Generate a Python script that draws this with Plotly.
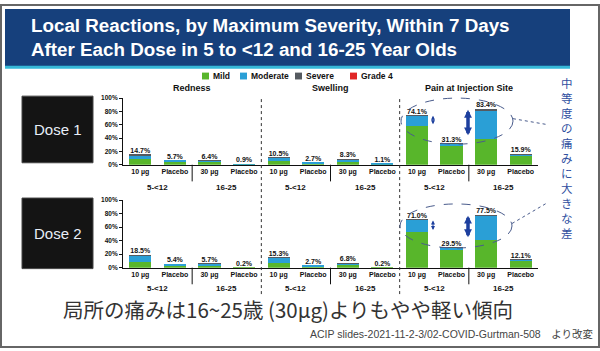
import plotly.graph_objects as go

W, H = 600, 351

# ---------------- data ----------------
categories = [
    "R-5-10", "R-5-P", "R-16-30", "R-16-P",
    "S-5-10", "S-5-P", "S-16-30", "S-16-P",
    "P-5-10", "P-5-P", "P-16-30", "P-16-P",
]
tick_labels = ["10 µg", "Placebo", "30 µg", "Placebo"] * 3
group_labels = ["5-<12", "16-25"]
panel_titles = ["Redness", "Swelling", "Pain at Injection Site"]
series_names = ["Mild", "Moderate", "Severe", "Grade 4"]
series_colors = ["#58b62b", "#2a9fd6", "#555a60", "#e02626"]

d1_mild = [8.8, 4.2, 4.4, 0.6, 5.0, 1.4, 4.6, 0.8, 58.5, 27.6, 38.0, 13.0]
d1_moderate = [5.5, 1.5, 1.8, 0.3, 5.3, 1.3, 3.5, 0.3, 15.1, 3.6, 43.0, 2.8]
d1_severe = [0.4, 0.0, 0.2, 0.0, 0.2, 0.0, 0.2, 0.0, 0.5, 0.1, 2.4, 0.1]
d1_grade4 = [0, 0, 0, 0, 0, 0, 0, 0, 0, 0, 0, 0]
d1_total = [14.7, 5.7, 6.4, 0.9, 10.5, 2.7, 8.3, 1.1, 74.1, 31.3, 83.4, 15.9]

d2_mild = [8.5, 3.8, 3.6, 0.2, 7.2, 1.4, 3.6, 0.2, 52.5, 27.0, 41.0, 10.0]
d2_moderate = [9.7, 1.6, 1.9, 0.0, 7.9, 1.3, 3.0, 0.0, 18.0, 2.4, 35.5, 2.0]
d2_severe = [0.3, 0.0, 0.2, 0.0, 0.2, 0.0, 0.2, 0.0, 0.5, 0.1, 1.0, 0.1]
d2_grade4 = [0, 0, 0, 0, 0, 0, 0, 0, 0, 0, 0, 0]
d2_total = [18.5, 5.4, 5.7, 0.2, 15.3, 2.7, 6.8, 0.2, 71.0, 29.5, 77.5, 12.1]

title_lines = ["Local Reactions, by Maximum Severity, Within 7 Days",
               "After Each Dose in 5 to <12 and 16-25 Year Olds"]
dose_labels = ["Dose 1", "Dose 2"]
side_note = "中等度の痛みに大きな差"
bottom_note = "局所の痛みは16~25歳 (30µg)よりもやや軽い傾向"
source_note = "ACIP slides-2021-11-2-3/02-COVID-Gurtman-508　より改変"

FONT = "Liberation Sans, Arial, sans-serif"
JFONT = "Noto Sans CJK JP, sans-serif"
MIXFONT = "Liberation Sans, Noto Sans CJK JP, sans-serif"


def px(x):
    return x / W


def py(y):
    return 1 - y / H


fig = go.Figure()

dose_data = [
    (d1_mild, d1_moderate, d1_severe, d1_grade4, d1_total, "x", "y"),
    (d2_mild, d2_moderate, d2_severe, d2_grade4, d2_total, "x2", "y2"),
]
for di, (mi, mo, se, g4, tot, xa, ya) in enumerate(dose_data):
    for name, vals, col in zip(series_names, [mi, mo, se, g4], series_colors):
        fig.add_trace(go.Bar(
            x=categories, y=vals, name=name, marker_color=col,
            marker_line_width=0, width=0.64, xaxis=xa, yaxis=ya,
            showlegend=False,
        ))
    fig.add_trace(go.Scatter(
        x=categories, y=tot, mode="text",
        text=[f"{v:.1f}%" for v in tot], textposition="top center",
        textfont=dict(family=FONT, size=7, color="#111", weight="bold"),
        xaxis=xa, yaxis=ya, showlegend=False, cliponaxis=False,
    ))

# axis geometry (pixels)
X0, X1 = 123, 538
axes_px = [(96, 164), (200, 269)]

xaxis_common = dict(
    type="category", categoryorder="array", categoryarray=categories,
    tickvals=categories, ticktext=tick_labels, range=[-0.5, 11.5],
    domain=[px(X0), px(X1)], showline=True, linecolor="#111", linewidth=1,
    ticks="", showgrid=False, zeroline=False,
    tickfont=dict(family=FONT, size=7, color="#111", weight="bold"),
    fixedrange=True,
)
yaxis_common = dict(
    range=[0, 100], dtick=20, ticksuffix="%", showline=True, linecolor="#111",
    linewidth=1, ticks="outside", ticklen=3, tickcolor="#111",
    showgrid=False, zeroline=False,
    tickfont=dict(family=FONT, size=6.5, color="#111", weight="bold"),
    fixedrange=True,
)

fig.update_layout(
    xaxis=dict(xaxis_common, anchor="y"),
    xaxis2=dict(xaxis_common, anchor="y2"),
    yaxis=dict(yaxis_common, anchor="x", domain=[py(axes_px[0][1]), py(axes_px[0][0])]),
    yaxis2=dict(yaxis_common, anchor="x2", domain=[py(axes_px[1][1]), py(axes_px[1][0])]),
)

shapes = []
annotations = []

# frame
shapes.append(dict(type="rect", xref="paper", yref="paper", x0=px(1), x1=px(599),
                   y0=py(1), y1=py(350), line=dict(color="#666", width=2),
                   fillcolor="rgba(0,0,0,0)", layer="below"))
# banner
shapes.append(dict(type="rect", xref="paper", yref="paper", x0=px(5), x1=px(570),
                   y0=py(64), y1=py(5), line=dict(width=0), fillcolor="#16407c",
                   layer="below"))
shapes.append(dict(type="rect", xref="paper", yref="paper", x0=px(5), x1=px(570),
                   y0=py(66), y1=py(63), line=dict(width=0), fillcolor="#35b8d8",
                   layer="below"))
for i, (line, yc) in enumerate(zip(title_lines, [22, 46])):
    annotations.append(dict(text=line, xref="paper", yref="paper", x=px(29), y=py(yc),
                            xanchor="left", yanchor="middle", showarrow=False,
                            font=dict(family=FONT, size=18.8, color="white", weight="bold")))

# legend (manual)
leg_x = [202, 240, 295, 350]
for lx, name, col in zip(leg_x, series_names, series_colors):
    shapes.append(dict(type="rect", xref="paper", yref="paper", x0=px(lx), x1=px(lx + 7),
                       y0=py(77), y1=py(70), line=dict(width=0), fillcolor=col))
    annotations.append(dict(text=name, xref="paper", yref="paper", x=px(lx + 8.5), y=py(73.5),
                            xanchor="left", yanchor="middle", showarrow=False,
                            font=dict(family=FONT, size=8.5, color="#111", weight="bold")))

# dose boxes
for lab, (y0, y1) in zip(dose_labels, [(94, 162), (198, 270)]):
    shapes.append(dict(type="rect", xref="paper", yref="paper", x0=px(22), x1=px(93),
                       y0=py(y1), y1=py(y0), line=dict(color="#444", width=1),
                       fillcolor="#141414", layer="below"))
    annotations.append(dict(text=lab, xref="paper", yref="paper", x=px(57.5),
                            y=py((y0 + y1) / 2), xanchor="center", yanchor="middle",
                            showarrow=False,
                            font=dict(family=FONT, size=15, color="#e8eef8")))

# panel titles, group labels, separators
for pi, title in enumerate(panel_titles):
    base = 4 * pi
    annotations.append(dict(text=title, xref="x", yref="paper", x=base + 1.5, y=py(86),
                            xanchor="center", yanchor="middle", showarrow=False,
                            font=dict(family=FONT, size=9, color="#111", weight="bold")))
    for xa, (ytop, ybot), glab_y, sep_bot in [("x", axes_px[0], 187, 181),
                                                ("x2", axes_px[1], 290, 286)]:
        for gi, g in enumerate(group_labels):
            annotations.append(dict(text=g, xref=xa, yref="paper", x=base + 0.5 + 2 * gi,
                                    y=py(glab_y), xanchor="center", yanchor="middle",
                                    showarrow=False,
                                    font=dict(family=FONT, size=8, color="#111", weight="bold")))
        shapes.append(dict(type="line", xref=xa, yref="paper", x0=base + 1.5, x1=base + 1.5,
                           y0=py(ybot), y1=py(sep_bot), line=dict(color="#111", width=1)))
    if pi < 2:
        shapes.append(dict(type="line", xref="x", yref="paper", x0=base + 3.5, x1=base + 3.5,
                           y0=py(97), y1=py(299), line=dict(color="#333", width=1, dash="dot")))

# ellipses + leader lines
for (ex0, ey0, ex1, ey1), (lx0, ly0, lx1, ly1) in [
        ((401, 96, 513, 143), (513, 117, 547, 123)),
        ((400, 204, 512, 249), (512, 224, 547, 203))]:
    shapes.append(dict(type="circle", xref="paper", yref="paper", x0=px(ex0), x1=px(ex1),
                       y0=py(ey1), y1=py(ey0), line=dict(color="#4a5c8c", width=1, dash="dash")))
    shapes.append(dict(type="line", xref="paper", yref="paper", x0=px(lx0), x1=px(lx1),
                       y0=py(ly0), y1=py(ly1), line=dict(color="#4a5c8c", width=1, dash="dot")))

# arrows
for (x, yt, yb, w, s) in [(433, 114, 124, 1, 0.8), (468, 108, 135, 3.5, 0.45),
                          (433, 221, 232, 1, 0.8), (468, 216, 239, 3.5, 0.45)]:
    annotations.append(dict(text="", xref="paper", yref="paper", x=px(x), y=py(yt),
                            ax=0, ay=yb - yt, showarrow=True, arrowhead=2, arrowsize=s,
                            startarrowhead=2, startarrowsize=s, arrowside="end+start",
                            arrowwidth=w, arrowcolor="#1d3f9e", standoff=0, startstandoff=0))

# side note (vertical)
annotations.append(dict(text="<br>".join(list(side_note)), xref="paper", yref="paper",
                        x=px(567), y=py(157), xanchor="center", yanchor="middle",
                        showarrow=False, align="center",
                        font=dict(family=JFONT, size=11.5, color="#2f4f9f")))

# bottom notes
annotations.append(dict(text=bottom_note, xref="paper", yref="paper", x=px(61), y=py(311),
                        xanchor="left", yanchor="middle", showarrow=False,
                        font=dict(family=JFONT, size=20.5, color="#333")))
annotations.append(dict(text=source_note, xref="paper", yref="paper", x=px(595), y=py(337),
                        xanchor="right", yanchor="middle", showarrow=False,
                        font=dict(family=MIXFONT, size=10.5, color="#444")))

fig.update_layout(
    width=W, height=H, margin=dict(l=0, r=0, t=0, b=0),
    paper_bgcolor="white", plot_bgcolor="rgba(0,0,0,0)",
    barmode="stack", bargap=0.36, showlegend=False,
    shapes=shapes, annotations=annotations,
)

fig.write_html("out.html")
